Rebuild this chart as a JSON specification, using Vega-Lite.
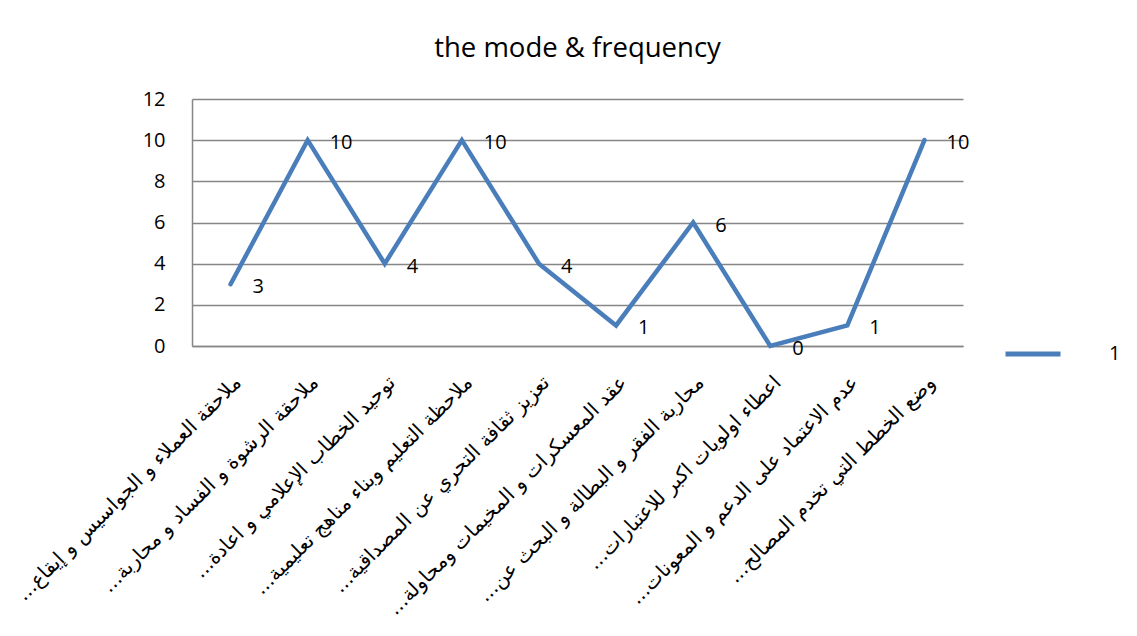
{
  "$schema": "https://vega.github.io/schema/vega-lite/v6.json",
  "width": 771,
  "height": 247,
  "autosize": {"type": "none"},
  "padding": {"left": 192, "top": 99, "right": 174, "bottom": 290},
  "background": "white",
  "title": {
    "text": "the mode & frequency",
    "font": "Open Sans",
    "fontSize": 27.5,
    "fontWeight": "normal",
    "color": "black",
    "anchor": "middle",
    "frame": "group",
    "offset": 27
  },
  "data": {
    "values": [
      {"item": "ملاحقة العملاء و الجواسيس و إيقاع...‏", "value": 3, "series": "1"},
      {"item": "ملاحقة الرشوة و الفساد و محاربة...‏", "value": 10, "series": "1"},
      {"item": "توحيد الخطاب الإعلامي و اعادة...‏", "value": 4, "series": "1"},
      {"item": "ملاحظة التعليم وبناء مناهج تعليمية...‏", "value": 10, "series": "1"},
      {"item": "تعزيز ثقافة التحري عن المصداقية...‏", "value": 4, "series": "1"},
      {"item": "عقد المعسكرات و المخيمات ومحاولة...‏", "value": 1, "series": "1"},
      {"item": "محاربة الفقر و البطالة و البحث عن...‏", "value": 6, "series": "1"},
      {"item": "اعطاء اولويات اكبر للاعتبارات...‏", "value": 0, "series": "1"},
      {"item": "عدم الاعتماد على الدعم و المعونات...‏", "value": 1, "series": "1"},
      {"item": "وضع الخطط التي تخدم المصالح...‏", "value": 10, "series": "1"}
    ]
  },
  "encoding": {
    "x": {
      "field": "item",
      "type": "nominal",
      "sort": null,
      "scale": {"type": "point", "padding": 0.5},
      "axis": {
        "title": null,
        "labelAngle": -45,
        "labelFont": "DejaVu Sans",
        "labelFontSize": 20,
        "labelColor": "black",
        "labelLimit": 500,
        "labelPadding": 26,
        "ticks": false,
        "domainColor": "#868686",
        "domainWidth": 1.5,
        "grid": false
      }
    },
    "y": {
      "field": "value",
      "type": "quantitative",
      "scale": {"domain": [0, 12], "nice": false},
      "axis": {
        "title": null,
        "values": [0, 2, 4, 6, 8, 10, 12],
        "labelFont": "Open Sans",
        "labelFontSize": 20,
        "labelColor": "black",
        "labelPadding": 27,
        "ticks": false,
        "domainColor": "#868686",
        "domainWidth": 1.5,
        "gridColor": "#868686",
        "gridWidth": 1.5
      }
    }
  },
  "layer": [
    {
      "mark": {"type": "line", "strokeWidth": 4.5, "strokeJoin": "miter", "strokeCap": "round"},
      "encoding": {
        "color": {
          "field": "series",
          "type": "nominal",
          "scale": {"range": ["#4a7ebb"]},
          "legend": {
            "title": null,
            "orient": "none",
            "legendX": 811,
            "legendY": 225,
            "symbolType": "stroke",
            "symbolSize": 3025,
            "symbolStrokeWidth": 5,
            "labelOffset": 46,
            "labelFont": "Open Sans",
            "labelFontSize": 20,
            "labelColor": "black"
          }
        }
      }
    },
    {
      "mark": {"type": "text", "align": "left", "baseline": "middle", "dx": 22, "dy": 3, "font": "Open Sans", "fontSize": 20, "color": "black"},
      "encoding": {"text": {"field": "value", "type": "quantitative"}}
    }
  ],
  "config": {"view": {"stroke": null}}
}
